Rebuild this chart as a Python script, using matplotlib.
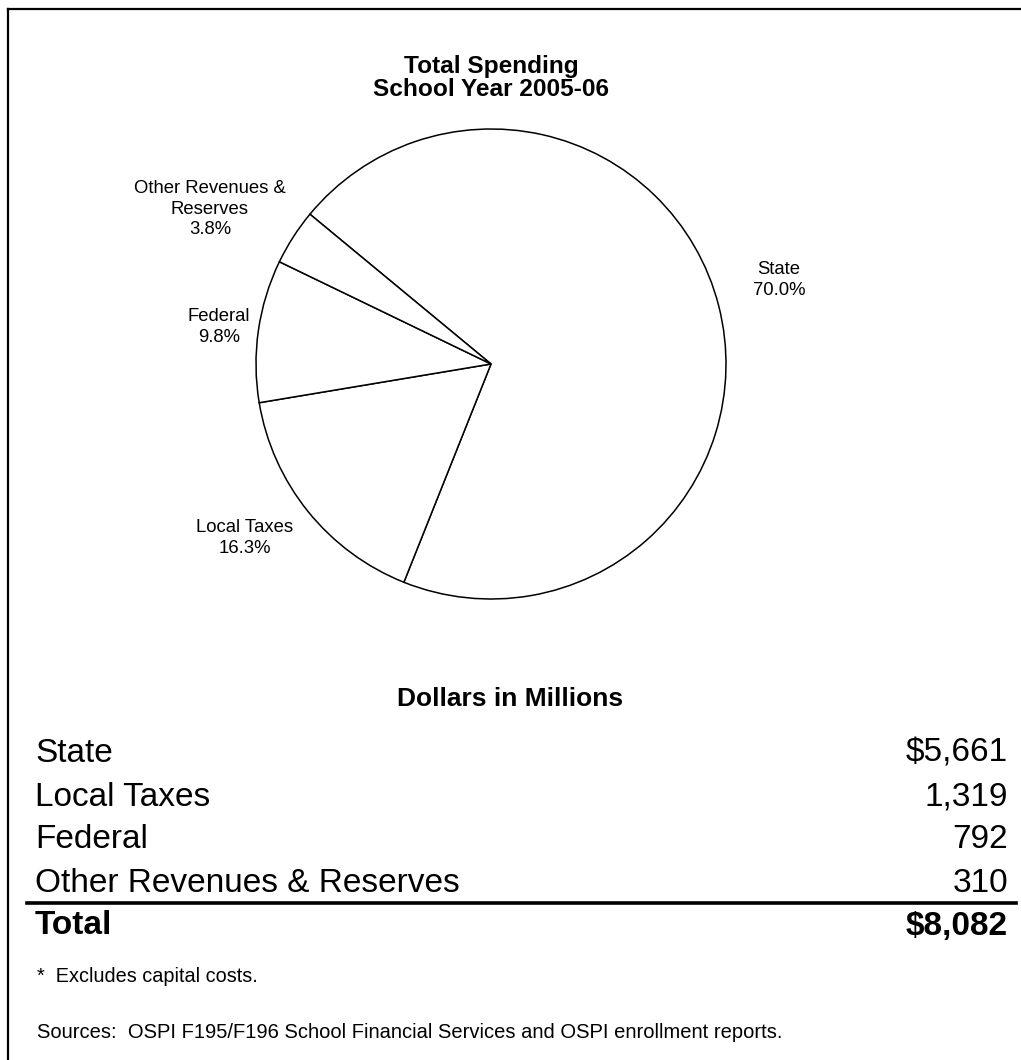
import matplotlib
matplotlib.use('Agg')
import matplotlib.pyplot as plt
from matplotlib.lines import Line2D

plt.rcParams['font.family'] = ['Liberation Sans', 'DejaVu Sans']

# data
categories = ['State', 'Local Taxes', 'Federal', 'Other Revenues & Reserves']
pie_labels = ['State', 'Local Taxes', 'Federal', 'Other Revenues &\nReserves']
values = [5661, 1319, 792, 310]
total = sum(values)
value_labels = ['$5,661', '1,319', '792', '310']
total_label = '$8,082'

W, H = 1021, 1060
fig = plt.figure(figsize=(W / 100, H / 100), dpi=100)


def fx(px):
    return px / W


def fy(py):
    return 1 - py / H


# frame (top and left edges only)
fig.add_artist(Line2D([fx(8), 1], [fy(9), fy(9)], color='black', lw=1.6))
fig.add_artist(Line2D([fx(8), fx(8)], [fy(9), 0], color='black', lw=1.6))

# title
fig.text(fx(491), fy(78), 'Total Spending\nSchool Year 2005-06', ha='center', va='center',
         fontsize=17.6, fontweight='bold', linespacing=1.05)

# pie
cx, cy, r = 491, 364, 235
ax = fig.add_axes([fx(cx - r), fy(cy + r), 2 * r / W, 2 * r / H])
wedges, _ = ax.pie(values, startangle=140.4, counterclock=False,
                   colors=['white'] * 4,
                   wedgeprops=dict(edgecolor='black', linewidth=1.1))
ax.set_xlim(-1, 1)
ax.set_ylim(-1, 1)
ax.set_aspect('auto')
ax.axis('off')

label_pos = [(779, 280), (245, 538), (219, 327), (210, 209)]
for lab, v, (lx, ly) in zip(pie_labels, values, label_pos):
    fig.text(fx(lx), fy(ly), f'{lab}\n{v / total * 100:.1f}%', ha='center', va='center',
             fontsize=13.3, linespacing=1.25)

# table
fig.text(fx(510), fy(699), 'Dollars in Millions', ha='center', va='center',
         fontsize=19, fontweight='bold')
row_y = [753, 797, 840, 883]
for name, val, y in zip(categories, value_labels, row_y):
    fig.text(fx(35), fy(y), name, ha='left', va='center', fontsize=24)
    fig.text(fx(1008), fy(y), val, ha='right', va='center', fontsize=24)

fig.add_artist(Line2D([fx(27), fx(1016)], [fy(903), fy(903)], color='black', lw=2.6))
fig.text(fx(35), fy(926), 'Total', ha='left', va='center', fontsize=24, fontweight='bold')
fig.text(fx(1008), fy(926), total_label, ha='right', va='center', fontsize=24, fontweight='bold')

fig.text(fx(37), fy(977), '*  Excludes capital costs.', ha='left', va='center', fontsize=14.3)
fig.text(fx(37), fy(1033), 'Sources:  OSPI F195/F196 School Financial Services and OSPI enrollment reports.',
         ha='left', va='center', fontsize=14.5)

fig.savefig('out.png', dpi=100, facecolor='white')
